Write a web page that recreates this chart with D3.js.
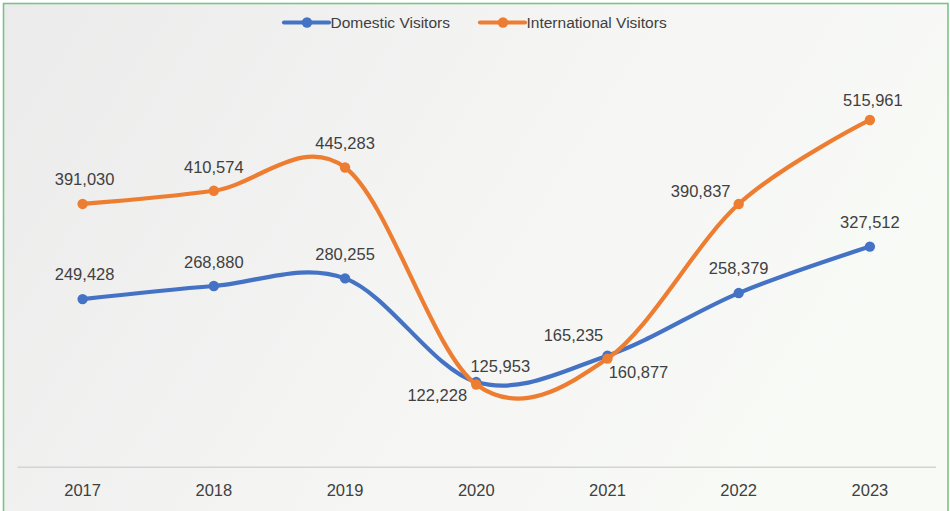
<!DOCTYPE html>
<html><head><meta charset="utf-8">
<script src="https://cdn.jsdelivr.net/npm/d3@7"></script>
<style>
html,body{margin:0;padding:0;background:#fff;}
svg{display:block;font-family:"Liberation Sans",Arial,sans-serif;}
</style></head>
<body>
<svg id="chart" width="950" height="511"></svg>
<script>
const years = ["2017","2018","2019","2020","2021","2022","2023"];
const domestic = [249428, 268880, 280255, 125953, 165235, 258379, 327512];
const international = [391030, 410574, 445283, 122228, 160877, 390837, 515961];
const seriesNames = ["Domestic Visitors", "International Visitors"];
const yMax = 600000;

// label placement offsets (style, not data)
const domLabelOffset = [[2,-25],[0,-24],[0,-24],[24,-16],[-34,-21],[0,-25],[0,-25]];
const intLabelOffset = [[2,-25],[0,-24],[0,-24],[-39,10],[31,13],[-38,-13],[3,-20]];

const colors = ["#4472C4", "#ED7D31"];
const textColor = "#404040";

const svg = d3.select("#chart");
const W = 950, H = 511;

// background
const defs = svg.append("defs");
const grad = defs.append("linearGradient").attr("id","bg")
  .attr("x1","0").attr("y1","0").attr("x2","1").attr("y2","0.35");
grad.append("stop").attr("offset","0%").attr("stop-color","#ebebeb");
grad.append("stop").attr("offset","60%").attr("stop-color","#f5f5f4");
grad.append("stop").attr("offset","100%").attr("stop-color","#f8faf6");
svg.append("rect").attr("x",0).attr("y",0).attr("width",W).attr("height",H).attr("fill","#ffffff");
svg.append("rect").attr("x",3.5).attr("y",3.5).attr("width",944.5).attr("height",H+10)
  .attr("fill","url(#bg)").attr("stroke","#7cc385").attr("stroke-width",1.6);

const x = d3.scaleBand().domain(years).range([17, 935.5]).paddingInner(0).paddingOuter(0);
const y = d3.scaleLinear().domain([0, yMax]).range([466.7, 63.5]);
const cx = d => x(d) + x.bandwidth()/2;

// x axis
const xAxis = d3.axisBottom(x).tickSize(0).tickPadding(18);
const gx = svg.append("g").attr("transform","translate(0,466.7)").call(xAxis);
gx.select(".domain").attr("stroke","#d4d4d4").attr("stroke-width",1.5);
gx.selectAll("text").attr("fill",textColor).attr("font-size","16.5px")
  .attr("font-family","'Liberation Sans',Arial,sans-serif");

const line = d3.line().x(d => cx(d.year)).y(d => y(d.value)).curve(d3.curveCatmullRom.alpha(0));

const allSeries = [
  {name: seriesNames[0], values: domestic, color: colors[0], offs: domLabelOffset},
  {name: seriesNames[1], values: international, color: colors[1], offs: intLabelOffset}
];

allSeries.forEach(s => {
  const pts = years.map((yr,i) => ({year: yr, value: s.values[i]}));
  svg.append("path").datum(pts).attr("d", line)
    .attr("fill","none").attr("stroke", s.color).attr("stroke-width",4.2)
    .attr("stroke-linecap","round").attr("stroke-linejoin","round");
  svg.append("g").selectAll("circle").data(pts).join("circle")
    .attr("cx", d => cx(d.year)).attr("cy", d => y(d.value)).attr("r",5.2)
    .attr("fill", s.color);
});

allSeries.forEach(s => {
  const pts = years.map((yr,i) => ({year: yr, value: s.values[i], off: s.offs[i]}));
  svg.append("g").selectAll("text").data(pts).join("text")
    .attr("x", d => cx(d.year) + d.off[0])
    .attr("y", d => y(d.value) + d.off[1])
    .attr("text-anchor","middle").attr("dominant-baseline","central")
    .attr("font-size","16.5px").attr("fill",textColor)
    .text(d => d3.format(",")(d.value));
});

// legend
const legendItems = [
  {name: seriesNames[0], color: colors[0], x0: 284},
  {name: seriesNames[1], color: colors[1], x0: 480}
];
const lg = svg.append("g");
legendItems.forEach(it => {
  lg.append("line").attr("x1", it.x0).attr("x2", it.x0+45).attr("y1",22.5).attr("y2",22.5)
    .attr("stroke", it.color).attr("stroke-width",4.2).attr("stroke-linecap","round");
  lg.append("circle").attr("cx", it.x0+23).attr("cy",22.5).attr("r",5.2).attr("fill",it.color);
  lg.append("text").attr("x", it.x0+46.5).attr("y",22.5).attr("dominant-baseline","central")
    .attr("font-size","15.5px").attr("fill",textColor).text(it.name);
});
</script>
</body></html>
